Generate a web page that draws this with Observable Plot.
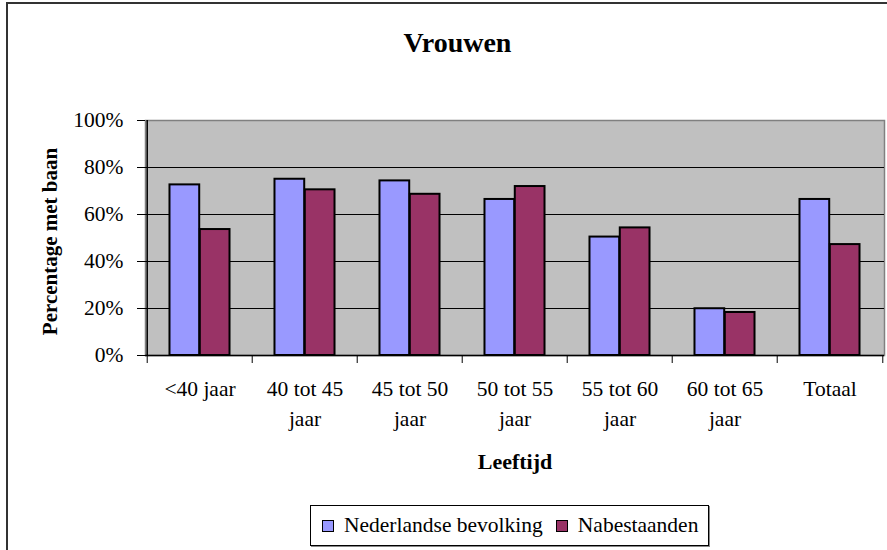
<!DOCTYPE html>
<html>
<head>
<meta charset="utf-8">
<script src="https://cdn.jsdelivr.net/npm/d3@7"></script>
<script src="https://cdn.jsdelivr.net/npm/@observablehq/plot@0.6"></script>
<style>
  body { margin: 0; background: #fff; }
  #wrap { position: relative; width: 887px; height: 550px; overflow: hidden; background: #fff;
          font-family: 'Liberation Serif', 'Times New Roman', serif; }
  #outer { position: absolute; left: 6px; top: 2px; width: 950px; height: 650px;
           border: 2px solid #333; box-sizing: border-box; }
  #chart { position: absolute; left: 0; top: 0; }
  #legend { position: absolute; left: 310px; top: 505px; width: 399px; height: 41px;
            border: 1px solid #000; box-shadow: 1px 1px 0 #888; box-sizing: border-box;
            display: flex; align-items: center; font-size: 21.5px; color: #000; background: #fff;
            padding-left: 11px; white-space: nowrap; }
  .sw { width: 12px; height: 12px; border: 1px solid #000; box-sizing: border-box; margin-right: 10px; flex: none; }
  .item2 { margin-left: 13px; }
</style>
</head>
<body>
<div id="wrap">
  <div id="outer"></div>
  <div id="chart"></div>
  <div id="legend"></div>
</div>
<script>
const title = "Vrouwen";
const yTitle = "Percentage met baan";
const xTitle = "Leeftijd";
const categories = ["<40 jaar", "40 tot 45 jaar", "45 tot 50 jaar", "50 tot 55 jaar", "55 tot 60 jaar", "60 tot 65 jaar", "Totaal"];
const xTickLabels = ["<40 jaar", "40 tot 45\njaar", "45 tot 50\njaar", "50 tot 55\njaar", "55 tot 60\njaar", "60 tot 65\njaar", "Totaal"];
const seriesNames = ["Nederlandse bevolking", "Nabestaanden"];
const seriesColors = ["#9999ff", "#993366"];
const nederlandse = [0.726, 0.750, 0.743, 0.664, 0.504, 0.199, 0.664];
const nabestaanden = [0.536, 0.705, 0.686, 0.719, 0.543, 0.183, 0.472];
const yTicks = [0, 0.2, 0.4, 0.6, 0.8, 1];
const yTickLabels = ["0%", "20%", "40%", "60%", "80%", "100%"];

const data = categories.flatMap((c, i) => [
  {cat: c, series: seriesNames[0], value: nederlandse[i]},
  {cat: c, series: seriesNames[1], value: nabestaanden[i]}
]);

const W = 887, H = 550, mL = 145, mR = 3, mT = 120, mB = 195;
const bw = (W - mL - mR) / categories.length;
const barW = bw * 0.287;
const outer = (bw - 2 * barW) / 2;
const font = "'Liberation Serif', 'Times New Roman', serif";

const chart = Plot.plot({
  width: W, height: H,
  marginTop: mT, marginBottom: mB, marginLeft: mL, marginRight: mR,
  style: {fontFamily: font, fontSize: "21px", color: "#000", background: "transparent", overflow: "visible"},
  x: {domain: categories, padding: 0, axis: null},
  y: {domain: [0, 1], axis: null},
  color: {domain: seriesNames, range: seriesColors},
  marks: [
    Plot.frame({fill: "#c0c0c0", stroke: "#808080", strokeWidth: 1.5}),
    Plot.ruleY(yTicks.filter(d => d > 0 && d < 1), {stroke: "#000", strokeWidth: 1}),
    Plot.barY(data.filter(d => d.series === seriesNames[0]), {
      x: "cat", y: "value", fill: "series", stroke: "#000", strokeWidth: 2,
      insetLeft: outer, insetRight: outer + barW
    }),
    Plot.barY(data.filter(d => d.series === seriesNames[1]), {
      x: "cat", y: "value", fill: "series", stroke: "#000", strokeWidth: 2,
      insetLeft: outer + barW, insetRight: outer
    }),
    Plot.ruleY([0], {stroke: "#000", strokeWidth: 1.5}),
    Plot.ruleX([categories[0]], {x: d => d, dx: -bw / 2, y1: 0, y2: 1, stroke: "#000", strokeWidth: 1.5}),
    Plot.ruleX(categories, {x: d => d, dx: -bw / 2, y1: 0, y2: 0, insetBottom: -8, stroke: "#000"}),
    Plot.ruleX([categories[categories.length - 1]], {x: d => d, dx: bw / 2, y1: 0, y2: 0, insetBottom: -8, stroke: "#000"}),
    Plot.axisY({ticks: yTicks, tickFormat: d => yTickLabels[yTicks.indexOf(d)], tickSize: 8, tickPadding: 14, fontSize: 21.5, label: null}),
    Plot.text(categories, {x: d => d, y: 0, text: (d, i) => xTickLabels[i], lineAnchor: "top", lineHeight: 1.4, dy: 19.5, fontSize: 21.5, fill: "#000"}),
    Plot.text([xTitle], {text: d => d, frameAnchor: "bottom", lineAnchor: "middle", textAnchor: "middle", dy: 106, fontSize: 22, fontWeight: "bold", fill: "#000"}),
    Plot.text([yTitle], {text: d => d, frameAnchor: "left", lineAnchor: "middle", textAnchor: "middle", rotate: -90, dx: -95, dy: 3.5, fontSize: 21, fontWeight: "bold", fill: "#000"}),
    Plot.text([title], {text: d => d, frameAnchor: "top", lineAnchor: "middle", textAnchor: "middle", dx: -57.5, dy: -77, fontSize: 28, fontWeight: "bold", fill: "#000"})
  ]
});
document.getElementById("chart").appendChild(chart);

const legend = document.getElementById("legend");
seriesNames.forEach((name, i) => {
  const sw = document.createElement("span");
  sw.className = "sw" + (i > 0 ? " item2" : "");
  sw.style.background = seriesColors[i];
  const tx = document.createElement("span");
  tx.textContent = name;
  legend.appendChild(sw);
  legend.appendChild(tx);
});
</script>
</body>
</html>
